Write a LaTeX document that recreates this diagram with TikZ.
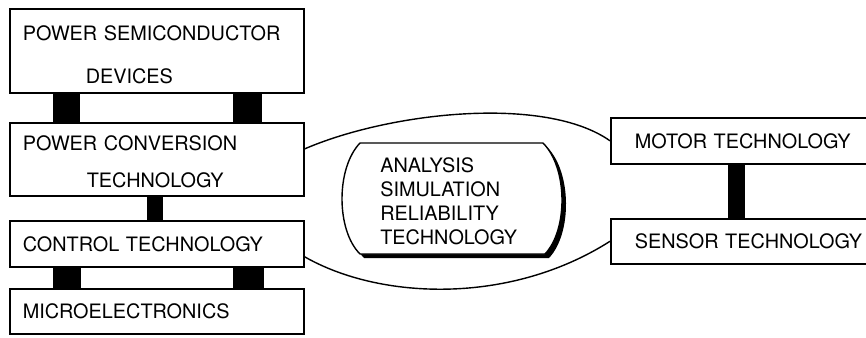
\documentclass[tikz,border=0pt]{standalone}
\usepackage{fontspec}
\setmainfont{TeX Gyre Heros}
\usetikzlibrary{calc}

\tikzset{
  box/.style={draw, line width=0.9pt, rectangle, anchor=north west, align=left,
    inner ysep=0pt, font=\fontsize{11.3}{13.6}\selectfont},
  leftbox/.style={box, minimum width=5.88cm, text width=5.36cm, inner xsep=0.26cm},
  rightbox/.style={box, minimum width=5.96cm, text width=5cm, inner xsep=0.48cm},
  pillar/.style={fill=black},
  link/.style={line width=0.8pt},
}

\begin{document}
\begin{tikzpicture}[x=0.02cm, y=-0.02cm]
  \useasboundingbox (0,0) rectangle (866,338);
  \clip (0,0) rectangle (866,338);

  % left column
  \node[leftbox, minimum height=1.68cm] (psd) at (9,8)
    {\rule{0pt}{12.6pt}POWER SEMICONDUCTOR\\[10.8pt]\hspace*{1.26cm}DEVICES};
  \node[leftbox, minimum height=1.46cm] (pc) at (9,122)
    {\rule{0pt}{11.6pt}POWER CONVERSION\\[7.4pt]\hspace*{1.28cm}TECHNOLOGY};
  \node[leftbox, minimum height=0.92cm] (ct) at (9,220) {CONTROL TECHNOLOGY};
  \node[leftbox, minimum height=0.9cm] (me) at (9,288) {MICROELECTRONICS};

  % right column
  \node[rightbox, minimum height=0.92cm] (motor) at (610,117) {MOTOR TECHNOLOGY};
  \node[rightbox, minimum height=0.9cm] (sensor) at (610,218) {SENSOR TECHNOLOGY};

  % pillars between the boxes
  \fill[pillar] ($(psd.south west)+(44,0)$) rectangle ($(pc.north west)+(71,0)$);
  \fill[pillar] ($(psd.south west)+(224,0)$) rectangle ($(pc.north west)+(253,0)$);
  \fill[pillar] ($(pc.south west)+(138,0)$) rectangle ($(ct.north west)+(154,0)$);
  \fill[pillar] ($(ct.south west)+(44,0)$) rectangle ($(me.north west)+(72,0)$);
  \fill[pillar] ($(ct.south west)+(224,0)$) rectangle ($(me.north west)+(255,0)$);
  \fill[pillar] ($(motor.south west)+(118,0)$) rectangle ($(sensor.north west)+(135,0)$);

  % centre block with its shadow
  \begin{scope}[shift={(4,4)}]
    \fill (360,143) -- (543,143) .. controls (568,168) and (568,230) .. (545,254)
      -- (360,254) .. controls (336,230) and (336,168) .. cycle;
  \end{scope}
  \draw[fill=white, line width=0.8pt] (360,143) -- (543,143)
    .. controls (568,168) and (568,230) .. (545,254)
    -- (360,254) .. controls (336,230) and (336,168) .. cycle;
  \node[align=left, anchor=west, inner sep=0pt, font=\fontsize{11.3}{13.6}\selectfont]
    (ana) at (380,201) {ANALYSIS\\SIMULATION\\RELIABILITY\\TECHNOLOGY};

  % the two curves
  \draw[link] (pc.4) .. controls (390,112) and (545,95) .. (motor.west);
  \draw[link] (ct.-5) .. controls (380,300) and (510,305) .. (sensor.west);
\end{tikzpicture}
\end{document}
